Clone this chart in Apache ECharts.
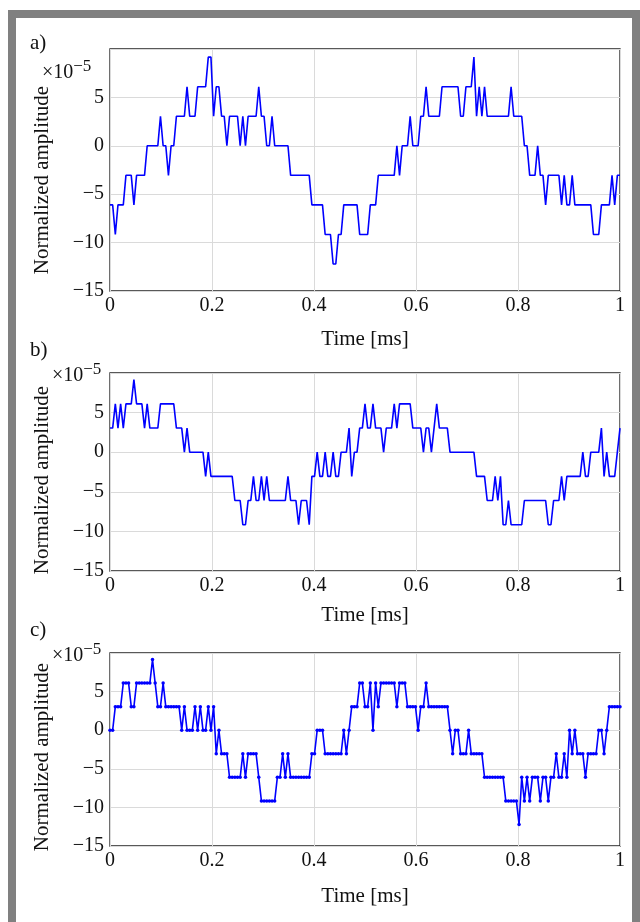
<!DOCTYPE html>
<html>
<head>
<meta charset="utf-8">
<script src="https://cdn.jsdelivr.net/npm/echarts@6/dist/echarts.min.js"></script>
<style>
html,body{margin:0;padding:0;background:#fff;}
#chart{width:640px;height:922px;}
</style>
</head>
<body>
<div id="chart"></div>
<script>
// Sample grid: 192 samples per millisecond (192 kHz), 0 .. 1 ms
const samplesPerMs = 192;

// Panel a) values (x10^-5)
const panelA = [
-6.1,-6.1,-9.16,-6.1,-6.1,-6.1,-3.05,-3.05,-3.05,-6.1,
-3.05,-3.05,-3.05,-3.05,0,0,0,0,0,3.05,
0,0,-3.05,0,0,3.05,3.05,3.05,3.05,6.1,
3.05,3.05,3.05,6.1,6.1,6.1,6.1,9.16,9.16,3.05,
6.1,6.1,3.05,3.05,0,3.05,3.05,3.05,3.05,0,
3.05,0,3.05,3.05,3.05,3.05,6.1,3.05,3.05,0,
0,3.05,0,0,0,0,0,0,-3.05,-3.05,
-3.05,-3.05,-3.05,-3.05,-3.05,-3.05,-6.1,-6.1,-6.1,-6.1,
-6.1,-9.16,-9.16,-9.16,-12.21,-12.21,-9.16,-9.16,-6.1,-6.1,
-6.1,-6.1,-6.1,-6.1,-9.16,-9.16,-9.16,-9.16,-6.1,-6.1,
-6.1,-3.05,-3.05,-3.05,-3.05,-3.05,-3.05,-3.05,0,-3.05,
0,0,0,3.05,0,0,0,3.05,3.05,6.1,
3.05,3.05,3.05,3.05,3.05,6.1,6.1,6.1,6.1,6.1,
6.1,6.1,3.05,3.05,6.1,6.1,6.1,9.16,3.05,6.1,
3.05,6.1,3.05,3.05,3.05,3.05,3.05,3.05,3.05,3.05,
3.05,6.1,3.05,3.05,3.05,3.05,0,0,-3.05,-3.05,
-3.05,0,-3.05,-3.05,-6.1,-3.05,-3.05,-3.05,-3.05,-3.05,
-6.1,-3.05,-6.1,-6.1,-3.05,-6.1,-6.1,-6.1,-6.1,-6.1,
-6.1,-6.1,-9.16,-9.16,-9.16,-6.1,-6.1,-6.1,-6.1,-3.05,
-6.1,-3.05,-3.05
];

// Panel b) values (x10^-5)
const panelB = [
3.05,3.05,6.1,3.05,6.1,3.05,6.1,6.1,6.1,9.16,
6.1,6.1,6.1,3.05,6.1,3.05,3.05,3.05,3.05,6.1,
6.1,6.1,6.1,6.1,6.1,3.05,3.05,3.05,0,3.05,
0,0,0,0,0,0,-3.05,0,-3.05,-3.05,
-3.05,-3.05,-3.05,-3.05,-3.05,-3.05,-3.05,-6.1,-6.1,-6.1,
-9.16,-9.16,-6.1,-6.1,-3.05,-6.1,-6.1,-3.05,-6.1,-3.05,
-6.1,-6.1,-6.1,-6.1,-6.1,-6.1,-6.1,-3.05,-6.1,-6.1,
-6.1,-9.16,-6.1,-6.1,-6.1,-9.16,-3.05,-3.05,0,-3.05,
-3.05,0,-3.05,-3.05,0,-3.05,-3.05,0,0,0,
3.05,-3.05,0,0,3.05,3.05,6.1,3.05,3.05,6.1,
3.05,3.05,3.05,0,3.05,3.05,3.05,6.1,3.05,6.1,
6.1,6.1,6.1,6.1,3.05,3.05,3.05,3.05,0,3.05,
3.05,0,3.05,6.1,3.05,3.05,3.05,3.05,0,0,
0,0,0,0,0,0,0,0,-3.05,-3.05,
-3.05,-3.05,-6.1,-6.1,-6.1,-3.05,-6.1,-3.05,-9.16,-9.16,
-6.1,-9.16,-9.16,-9.16,-9.16,-9.16,-6.1,-6.1,-6.1,-6.1,
-6.1,-6.1,-6.1,-6.1,-6.1,-9.16,-9.16,-6.1,-6.1,-6.1,
-3.05,-6.1,-3.05,-3.05,-3.05,-3.05,-3.05,-3.05,0,-3.05,
-3.05,0,0,0,0,3.05,-3.05,0,-3.05,-3.05,
-3.05,0,3.05
];

// Panel c) values (x10^-5)
const panelC = [
0,0,3.05,3.05,3.05,6.1,6.1,6.1,3.05,3.05,
6.1,6.1,6.1,6.1,6.1,6.1,9.16,6.1,3.05,3.05,
6.1,3.05,3.05,3.05,3.05,3.05,3.05,0,3.05,0,
0,0,3.05,0,3.05,0,0,3.05,0,3.05,
-3.05,0,-3.05,-3.05,-3.05,-6.1,-6.1,-6.1,-6.1,-6.1,
-3.05,-6.1,-3.05,-3.05,-3.05,-3.05,-6.1,-9.16,-9.16,-9.16,
-9.16,-9.16,-9.16,-6.1,-6.1,-3.05,-6.1,-3.05,-6.1,-6.1,
-6.1,-6.1,-6.1,-6.1,-6.1,-6.1,-3.05,-3.05,0,0,
0,-3.05,-3.05,-3.05,-3.05,-3.05,-3.05,-3.05,0,-3.05,
0,3.05,3.05,3.05,6.1,6.1,3.05,3.05,6.1,0,
6.1,3.05,6.1,6.1,6.1,6.1,6.1,6.1,3.05,6.1,
6.1,6.1,3.05,3.05,3.05,3.05,0,3.05,3.05,6.1,
3.05,3.05,3.05,3.05,3.05,3.05,3.05,3.05,0,-3.05,
0,0,-3.05,-3.05,-3.05,0,-3.05,-3.05,-3.05,-3.05,
-3.05,-6.1,-6.1,-6.1,-6.1,-6.1,-6.1,-6.1,-6.1,-9.16,
-9.16,-9.16,-9.16,-9.16,-12.21,-6.1,-9.16,-6.1,-9.16,-6.1,
-6.1,-6.1,-9.16,-6.1,-6.1,-9.16,-6.1,-6.1,-3.05,-6.1,
-6.1,-3.05,-6.1,0,-3.05,0,-3.05,-3.05,-3.05,-6.1,
-3.05,-3.05,-3.05,-3.05,0,0,-3.05,0,3.05,3.05,
3.05,3.05,3.05
];

const xTicks = [0, 0.2, 0.4, 0.6, 0.8, 1];
const yTicks = [-15, -10, -5, 0, 5, 10];
const panelLabels = ['a)', 'b)', 'c)'];
const xTitle = 'Time [ms]';
const yTitle = 'Normalized amplitude';
const scaleLabel = '\u00d710{s|\u22125}';

function pairs(vals) {
  return vals.map((v, i) => [i / samplesPerMs, v]);
}

const FONT = 'Liberation Serif, Times New Roman, serif';
const grids = [
  {left: 110, top: 49, width: 510, height: 242},
  {left: 110, top: 373, width: 510, height: 198},
  {left: 110, top: 653, width: 510, height: 193}
];
const xNameGap = [38, 34, 40];
const yLabelCenter = [180, 480, 757];
const scalePos = [[42, 58], [52, 361], [52, 641]];
const letterPos = [[30, 33], [30, 340], [30, 620]];
const series = [panelA, panelB, panelC];

const chart = echarts.init(document.getElementById('chart'), null, {renderer: 'canvas'});

const graphics = [
  {type: 'rect', shape: {x: 8, y: 10, width: 632, height: 8}, style: {fill: '#808080'}, silent: true},
  {type: 'rect', shape: {x: 8, y: 10, width: 8, height: 912}, style: {fill: '#808080'}, silent: true},
  {type: 'rect', shape: {x: 632, y: 10, width: 8, height: 912}, style: {fill: '#808080'}, silent: true}
];
for (let k = 0; k < 3; k++) {
  graphics.push({type: 'text', x: letterPos[k][0], y: letterPos[k][1],
    style: {text: panelLabels[k], font: '21px ' + FONT, fill: '#111'}});
  graphics.push({type: 'text', x: scalePos[k][0], y: scalePos[k][1],
    style: {text: scaleLabel, font: '20px ' + FONT, fill: '#111',
      rich: {s: {fontFamily: FONT, fontSize: 17, verticalAlign: 'top', padding: [0, 0, 12, 0]}}}});
  graphics.push({type: 'text', x: 42, y: yLabelCenter[k], rotation: Math.PI / 2,
    style: {text: yTitle, font: '21px ' + FONT, fill: '#111', align: 'center', verticalAlign: 'middle'}});
}

const option = {
  animation: false,
  backgroundColor: '#ffffff',
  grid: grids.map(g => Object.assign({show: true, borderColor: '#222', borderWidth: 1.3, backgroundColor: 'transparent', containLabel: false}, g)),
  xAxis: grids.map((g, k) => ({
    type: 'value', gridIndex: k, min: xTicks[0], max: xTicks[xTicks.length - 1], interval: 0.2,
    axisLine: {show: false}, axisTick: {show: false},
    splitLine: {show: true, lineStyle: {color: '#dadada', width: 1}},
    axisLabel: {fontFamily: FONT, fontSize: 20, color: '#111', margin: 5,
      formatter: v => String(Math.round(v * 10) / 10)},
    name: xTitle, nameLocation: 'middle', nameGap: xNameGap[k],
    nameTextStyle: {fontFamily: FONT, fontSize: 21, color: '#111'}
  })),
  yAxis: grids.map((g, k) => ({
    type: 'value', gridIndex: k, min: yTicks[0], max: yTicks[yTicks.length - 1], interval: 5,
    axisLine: {show: false}, axisTick: {show: false},
    splitLine: {show: true, lineStyle: {color: '#dadada', width: 1}},
    axisLabel: {fontFamily: FONT, fontSize: 20, color: '#111', margin: 6,
      formatter: v => v === 10 ? '' : (v < 0 ? '\u2212' + (-v) : String(v))}
  })),
  series: series.map((vals, k) => ({
    type: 'line', xAxisIndex: k, yAxisIndex: k, data: pairs(vals),
    showSymbol: k === 2, symbol: 'circle', symbolSize: 3.5,
    lineStyle: {color: '#0000ff', width: 1.6},
    itemStyle: {color: '#0000ff'},
    clip: true, silent: true
  })),
  graphic: graphics
};
chart.setOption(option);
</script>
</body>
</html>
